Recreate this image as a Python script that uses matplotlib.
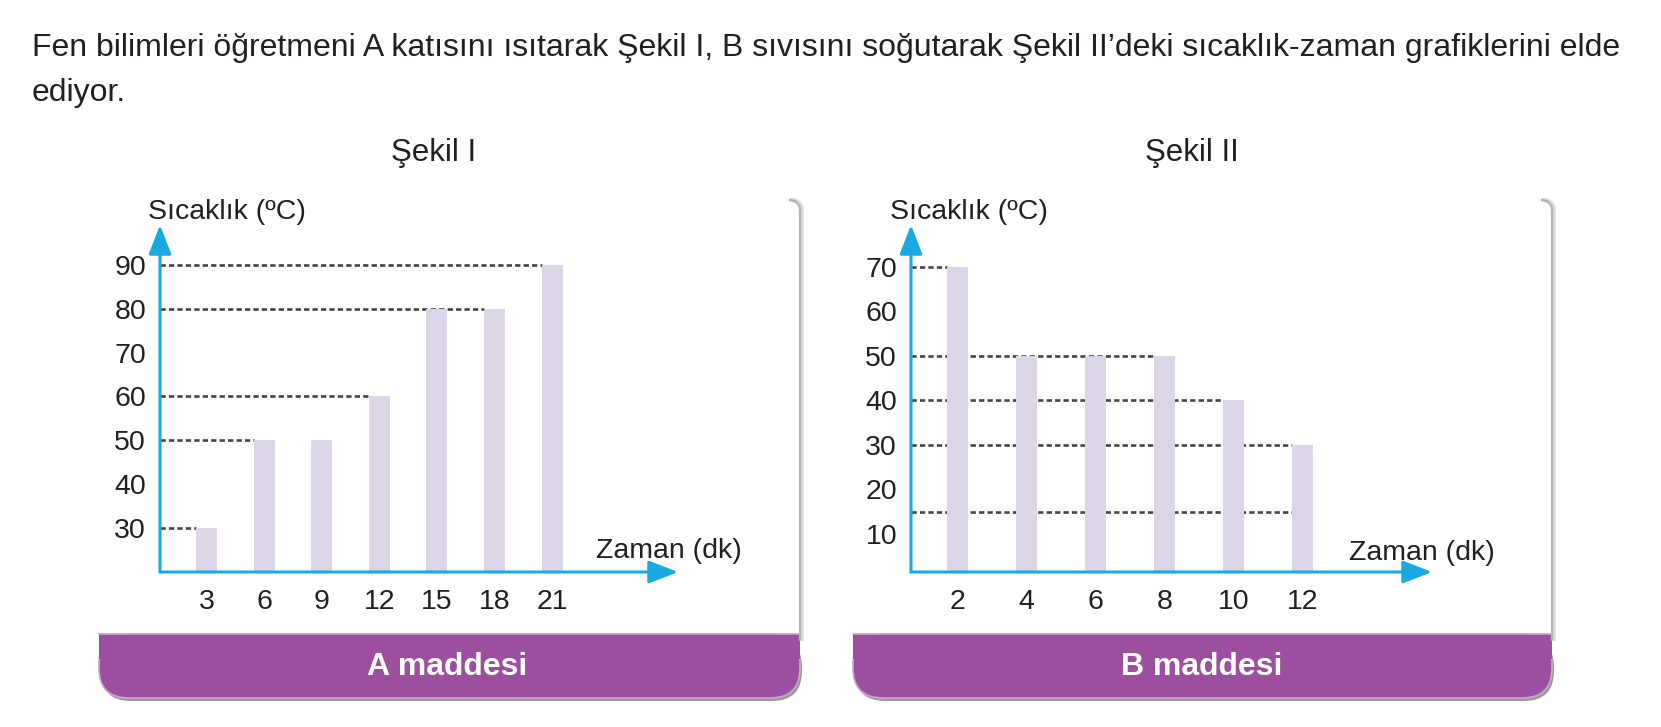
import matplotlib
matplotlib.use("Agg")
import matplotlib.pyplot as plt
from matplotlib.patches import FancyBboxPatch, Rectangle
from matplotlib.lines import Line2D
import numpy as np

plt.rcParams['font.family'] = ['Liberation Sans', 'DejaVu Sans']

# ---------------- data ----------------
header_line1 = "Fen bilimleri öğretmeni A katısını ısıtarak Şekil I, B sıvısını soğutarak Şekil II’deki sıcaklık-zaman grafiklerini elde"
header_line2 = "ediyor."

title_A = "Şekil I"
title_B = "Şekil II"
band_A = "A maddesi"
band_B = "B maddesi"
ylabel_text = "Sıcaklık (ºC)"
xlabel_text = "Zaman (dk)"

times_A = [3, 6, 9, 12, 15, 18, 21]
temps_A = [30, 50, 50, 60, 80, 80, 90]
yticks_A = [30, 40, 50, 60, 70, 80, 90]
guide_levels_A = [30, 50, 60, 80, 90]
guide_end_bar_A = [0, 1, 3, 5, 6]

times_B = [2, 4, 6, 8, 10, 12]
temps_B = [70, 50, 50, 50, 40, 30]
yticks_B = [10, 20, 30, 40, 50, 60, 70]
guide_levels_B = [70, 50, 40, 30, 15]
guide_end_bar_B = [0, 3, 4, 5, 5]

# ---------------- styles ----------------
W, H = 1661, 727
BAR = "#dcd4e7"
AXIS = "#19a9e1"
PURPLE = "#9c4f9e"
DASH = "#444444"
TXT = "#231f20"

fig = plt.figure(figsize=(W / 100, H / 100), dpi=100)
fig.patch.set_facecolor("white")


def fx(x):
    return x / W


def fy(y):
    return 1 - y / H


# header text fitted to width
t1 = fig.text(fx(32), fy(48), header_line1, fontsize=18, color=TXT, va="center", ha="left")
fig.canvas.draw()
w = t1.get_window_extent().width
fs = 18 * (1589 / w)
t1.set_fontsize(fs)
fig.text(fx(32), fy(93), header_line2, fontsize=fs, color=TXT, va="center", ha="left")

fig.text(fx(434), fy(153), title_A, fontsize=22.5, color=TXT, ha="center", va="center")
fig.text(fx(1192), fy(153), title_B, fontsize=22.5, color=TXT, ha="center", va="center")


def panel(left, right, band_text, text_x):
    top, btop, bbot = 200, 634, 698
    r = 10
    th = np.linspace(np.pi / 2, 0, 20)
    xs = list(right - r + r * np.cos(th)) + [right]
    ys = list(top + r - r * np.sin(th)) + [btop + 5]
    fig.add_artist(Line2D([fx(x + 1.5) for x in xs], [fy(y) for y in ys], color="#d9d9d9", lw=3.0))
    fig.add_artist(Line2D([fx(x) for x in xs], [fy(y) for y in ys], color="#b5b5b5", lw=1.6))
    sh = FancyBboxPatch((fx(left + 2), fy(bbot + 3)), fx(right - left), (bbot - btop) / H,
                        boxstyle="round,pad=0,rounding_size=0.018", transform=fig.transFigure,
                        facecolor="#9a9a9a", edgecolor="none", mutation_aspect=W / H)
    fig.add_artist(sh)
    band = FancyBboxPatch((fx(left), fy(bbot)), fx(right - left), (bbot - btop) / H,
                          boxstyle="round,pad=0,rounding_size=0.018", transform=fig.transFigure,
                          facecolor=PURPLE, edgecolor="#c9a6cb", lw=1.2, mutation_aspect=W / H)
    fig.add_artist(band)
    sq = Rectangle((fx(left), fy(btop + 25)), fx(right - left), 25 / H, transform=fig.transFigure,
                   facecolor=PURPLE, edgecolor="none")
    fig.add_artist(sq)
    fig.add_artist(Line2D([fx(left), fx(right)], [fy(btop), fy(btop)], color="#c9a6cb", lw=1.2))
    fig.text(fx(text_x), fy(667), band_text, fontsize=23, fontweight="bold", color="white",
             ha="center", va="center")


panel(99, 800, band_A, 447)
panel(853, 1552, band_B, 1202)


def chart(axis_x, axis_y, tip_x, tip_y, first_bar_px, spacing_px, y0, px_per10,
          times, temps, yticks, g_levels, g_end, bar_px, xlabel_pos, ylabel_pos):
    ax = fig.add_axes([fx(axis_x), fy(axis_y), fx(tip_x - axis_x), (axis_y - tip_y) / H])
    ax.set_facecolor("none")
    n = len(times)
    pos = np.arange(n)
    x0 = -(first_bar_px - axis_x) / spacing_px
    ax.set_xlim(x0, x0 + (tip_x - axis_x) / spacing_px)
    ax.set_ylim(y0, y0 + (axis_y - tip_y) / px_per10 * 10)
    width = bar_px / spacing_px
    ax.bar(pos, np.array(temps) - y0, bottom=y0, width=width, color=BAR, edgecolor="none", zorder=2)
    for lvl, e in zip(g_levels, g_end):
        ax.hlines(lvl, x0, pos[e] - width / 2, colors=DASH, linestyles=(0, (2.0, 1.2)), lw=1.9, zorder=1)
    for s in ax.spines.values():
        s.set_visible(False)
    ax.set_xticks(pos)
    ax.set_xticklabels([str(t) for t in times])
    ax.set_yticks(yticks)
    ax.set_yticklabels([str(t) for t in yticks])
    ax.tick_params(length=0, labelsize=20.5, colors=TXT)
    ax.tick_params(axis="y", pad=10)
    ax.tick_params(axis="x", pad=12.5)
    ax.annotate("", xy=(1, 0), xytext=(0, 0), xycoords="axes fraction",
                arrowprops=dict(arrowstyle="-|>,head_length=0.9,head_width=0.35", color=AXIS, lw=2.2,
                                shrinkA=0, shrinkB=0, mutation_scale=20), annotation_clip=False)
    ax.annotate("", xy=(0, 1), xytext=(0, 0), xycoords="axes fraction",
                arrowprops=dict(arrowstyle="-|>,head_length=0.9,head_width=0.35", color=AXIS, lw=2.2,
                                shrinkA=0, shrinkB=0, mutation_scale=20), annotation_clip=False)
    fig.text(fx(xlabel_pos[0]), fy(xlabel_pos[1]), xlabel_text, fontsize=20.5, color=TXT, ha="center", va="center")
    fig.text(fx(ylabel_pos[0]), fy(ylabel_pos[1]), ylabel_text, fontsize=20.5, color=TXT, ha="center", va="center")
    return ax


chart(160, 572, 678, 225, 206.6, 57.6, 20, 43.9,
      times_A, temps_A, yticks_A, guide_levels_A, guide_end_bar_A, 21,
      (669, 551), (227, 212))
chart(911, 572, 1432, 225, 957.6, 69.0, 1.46, 44.5,
      times_B, temps_B, yticks_B, guide_levels_B, guide_end_bar_B, 21,
      (1422, 553), (969, 212))

fig.savefig("out.png", dpi=100, facecolor="white")
